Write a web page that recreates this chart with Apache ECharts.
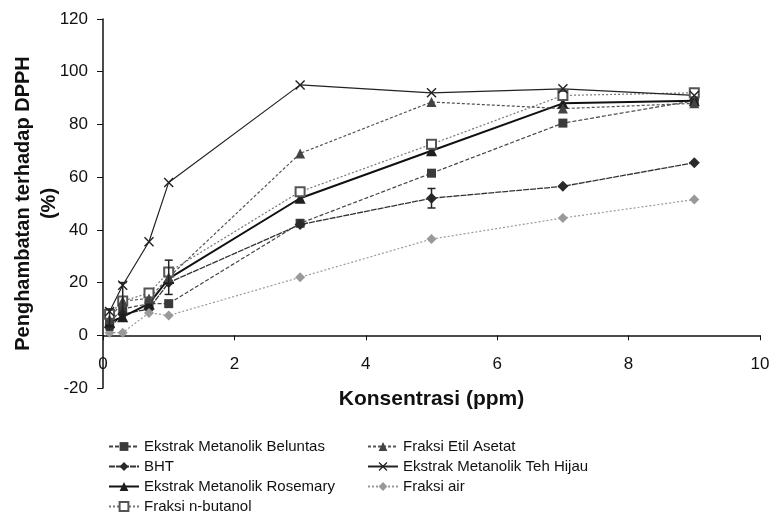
<!DOCTYPE html>
<html>
<head>
<meta charset="utf-8">
<script src="https://cdn.jsdelivr.net/npm/echarts@6/dist/echarts.min.js"></script>
<style>
html,body{margin:0;padding:0;background:#fff;}
#chart{width:769px;height:523px;}
</style>
</head>
<body>
<div id="chart"></div>
<script>
// Concentrations (ppm)
var konsentrasi = [0.1, 0.3, 0.7, 1, 3, 5, 7, 9];

// Series values (% inhibition of DPPH)
var beluntas   = [5, 10, 12, 12, 42.5, 61.5, 80.5, 89];
var bht        = [3, 8, 10, 20, 42, 52, 56.5, 65.5];
var rosemary   = [5, 7, 12, 21.5, 52, 70, 88, 89];
var nButanol   = [8, 13, 16, 24, 54.5, 72.5, 91, 92];
var etilAsetat = [6, 13, 14, 22, 69, 88.5, 86, 88];
var tehHijau   = [9, 19, 35.5, 58, 95, 92, 93.5, 91];
var fraksiAir  = [1, 1, 8.5, 7.5, 22, 36.5, 44.5, 51.5];

// Error bars: [x, y, halfWidth]
var errorBars = [[1, 22, 6.5], [5, 52, 3.7], [0.3, 14, 6], [0.1, 6, 4]];

var names = ['Ekstrak Metanolik Beluntas', 'BHT', 'Ekstrak Metanolik Rosemary', 'Fraksi n-butanol',
             'Fraksi Etil Asetat', 'Ekstrak Metanolik Teh Hijau', 'Fraksi air'];

var yTicks = [-20, 0, 20, 40, 60, 80, 100, 120];
var xTicks = [0, 2, 4, 6, 8, 10];

function pairs(arr) { return konsentrasi.map(function (x, i) { return [x, arr[i]]; }); }

var crossPath = 'path://M0,1 L1,0 L5,4 L9,0 L10,1 L6,5 L10,9 L9,10 L5,6 L1,10 L0,9 L4,5 Z';
var FONT = 'Liberation Sans, Arial, sans-serif';

function mk(name, data, symbol, size, color, lineColor, lw, ltype, z) {
  return {
    name: name, type: 'line', data: pairs(data),
    symbol: symbol, symbolSize: size,
    itemStyle: { color: color, borderColor: color, borderWidth: symbol.indexOf('empty') === 0 ? 1 : 0 },
    lineStyle: { color: lineColor, width: lw, type: ltype },
    z: z || 2, animation: false
  };
}

var series = [
  mk(names[0], beluntas, 'rect', 9, '#3a3a3a', '#444', 1.2, [4, 2]),
  mk(names[1], bht, 'diamond', 11, '#2a2a2a', '#333', 1.3, [6, 1]),
  mk(names[2], rosemary, 'triangle', 11, '#1e1e1e', '#111', 2, 'solid'),
  mk(names[3], nButanol, 'emptyRect', 9, '#555', '#777', 1.2, [2, 2]),
  mk(names[4], etilAsetat, 'triangle', 10, '#444', '#555', 1.2, [3, 2]),
  mk(names[5], tehHijau, crossPath, 10, '#222', '#222', 1.2, 'solid'),
  mk(names[6], fraksiAir, 'diamond', 10, '#999', '#9a9a9a', 1.2, [2, 2])
];

series.push({
  type: 'custom', name: 'err', data: errorBars, z: 5, silent: true, animation: false,
  renderItem: function (params, api) {
    var x = api.value(0), y = api.value(1), e = api.value(2);
    var top = api.coord([x, y + e]);
    var bot = api.coord([x, y - e]);
    var w = 4;
    var st = { stroke: '#222', lineWidth: 1.5 };
    return { type: 'group', children: [
      { type: 'line', shape: { x1: top[0], y1: top[1], x2: bot[0], y2: bot[1] }, style: st },
      { type: 'line', shape: { x1: top[0] - w, y1: top[1], x2: top[0] + w, y2: top[1] }, style: st },
      { type: 'line', shape: { x1: bot[0] - w, y1: bot[1], x2: bot[0] + w, y2: bot[1] }, style: st }
    ]};
  }
});

var legendText = { fontFamily: FONT, fontSize: 15, color: '#111' };

var option = {
  backgroundColor: '#ffffff',
  animation: false,
  grid: { left: 103, right: 9, top: 19, bottom: 135, containLabel: false, outerBoundsMode: 'none' },
  legend: [
    { data: names.slice(0, 4), orient: 'vertical', left: 103, top: 434, itemGap: 5,
      itemWidth: 30, itemHeight: 11, textStyle: legendText, selectedMode: false },
    { data: names.slice(4), orient: 'vertical', left: 362, top: 434, itemGap: 5,
      itemWidth: 30, itemHeight: 11, textStyle: legendText, selectedMode: false }
  ],
  xAxis: {
    type: 'value', min: xTicks[0], max: xTicks[xTicks.length - 1], interval: 2,
    axisLine: { onZero: true, lineStyle: { color: '#111', width: 1.5 } },
    axisTick: { show: true, inside: false, length: 5, lineStyle: { color: '#111' } },
    axisLabel: { margin: -32, fontFamily: FONT, fontSize: 17, color: '#111' },
    splitLine: { show: false },
    name: 'Konsentrasi (ppm)', nameLocation: 'middle', nameGap: 1, nameMoveOverlap: false,
    nameTextStyle: { fontFamily: FONT, fontSize: 21, fontWeight: 'bold', color: '#111' }
  },
  yAxis: {
    type: 'value', min: yTicks[0], max: yTicks[yTicks.length - 1], interval: 20,
    axisLine: { show: true, onZero: false, lineStyle: { color: '#111', width: 1.5 } },
    axisTick: { show: true, inside: false, length: 6, lineStyle: { color: '#111' } },
    axisLabel: { margin: 15, fontFamily: FONT, fontSize: 17, color: '#111' },
    splitLine: { show: false },
    name: 'Penghambatan terhadap DPPH\n(%)', nameLocation: 'middle', nameGap: 41, nameMoveOverlap: false,
    nameTextStyle: { fontFamily: FONT, fontSize: 20, fontWeight: 'bold', color: '#111', lineHeight: 26 }
  },
  series: series
};

var chart = echarts.init(document.getElementById('chart'), null, { renderer: 'canvas' });
chart.setOption(option);
</script>
</body>
</html>
